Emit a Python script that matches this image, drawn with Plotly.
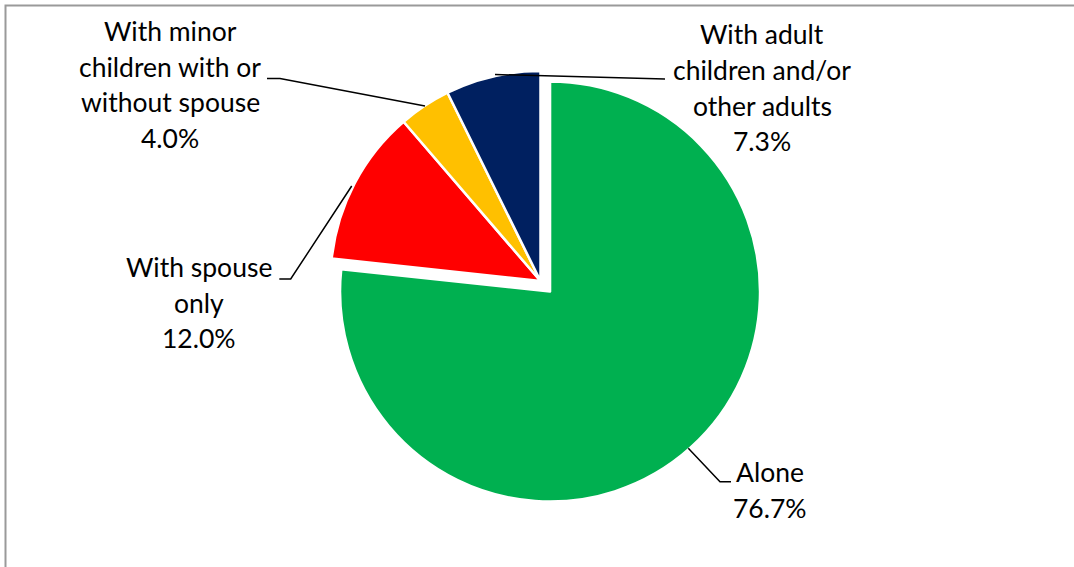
import plotly.graph_objects as go

# ---- data ----
categories = ["Alone", "With spouse only", "With minor children with or without spouse",
              "With adult children and/or other adults"]
values = [76.7, 12.0, 4.0, 7.3]
label_lines = [["Alone"], ["With spouse", "only"], ["With minor", "children with or", "without spouse"],
               ["With adult", "children and/or", "other adults"]]
colors = ["#00B050", "#FF0000", "#FFC000", "#002060"]

W, H = 1074, 567


def px(x):
    return x / W


def py(y):
    return 1 - y / H


fig = go.Figure()
fig.add_trace(go.Pie(
    labels=categories, values=values, sort=False, direction="clockwise", rotation=0,
    marker=dict(colors=colors, line=dict(color="white", width=2.5)),
    pull=[0.068, 0, 0, 0], textinfo="none", hoverinfo="label+percent", showlegend=False,
    domain=dict(x=[0.25326, 0.75326], y=[0.1089, 0.9000]),
))

# label layout: (center x px, first baseline px)
label_pos = [(770, 481.7), (199, 276.7), (170, 40.7), (762, 44.0)]
spacing = 35.5
FS = 26.5
annotations = []
for lines, v, (cx, b0) in zip(label_lines, values, label_pos):
    all_lines = lines + [f"{v:.1f}%"]
    for i, t in enumerate(all_lines):
        base = b0 + i * spacing
        annotations.append(dict(
            text=t, x=px(cx), y=py(base - 9.5), xref="paper", yref="paper",
            xanchor="center", yanchor="middle", showarrow=False,
            font=dict(family="Lato", size=FS, color="black")))

# leader lines (pixel paths)
leaders = [
    [(688.3, 448.3), (720, 481.7), (731, 481.7)],
    [(279.3, 279), (290.7, 279), (351.7, 186)],
    [(267, 78.5), (280, 78.5), (425, 106)],
    [(495, 74.5), (665, 79)],
]
shapes = []
for pts in leaders:
    path = "M " + " L ".join(f"{px(x):.5f},{py(y):.5f}" for x, y in pts)
    shapes.append(dict(type="path", path=path, xref="paper", yref="paper",
                       line=dict(color="black", width=1.5)))
# chart frame
shapes.append(dict(type="rect", xref="paper", yref="paper", x0=px(5.5), x1=px(1085),
                   y0=py(580), y1=py(5.5), line=dict(color="#9a9a9a", width=2)))

fig.update_layout(
    width=W, height=H, margin=dict(l=0, r=0, t=0, b=0),
    paper_bgcolor="white", plot_bgcolor="white",
    annotations=annotations, shapes=shapes,
)
fig.write_html("out.html", config={"displayModeBar": False},
               post_script="document.body.style.margin='0px';document.body.style.overflow='hidden';")
